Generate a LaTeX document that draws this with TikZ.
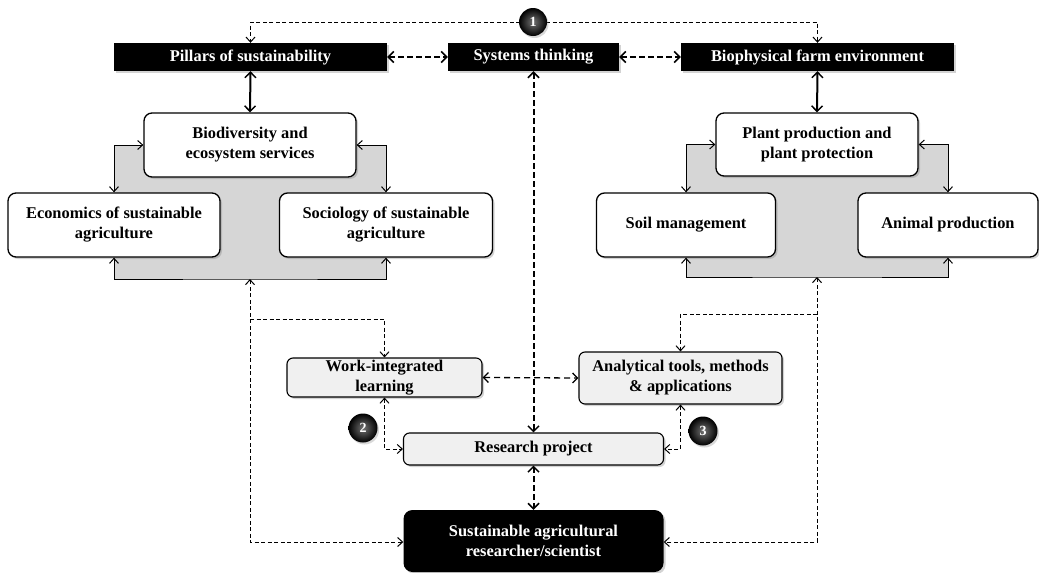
\documentclass[tikz,border=0pt]{standalone}
\usepackage{fontspec}
\setmainfont{Liberation Serif}
\usetikzlibrary{arrows.meta,shadows,calc}
\tikzset{
  stip/.tip={Straight Barb[length=5pt,width=9pt]},
  btip/.tip={Straight Barb[length=5.5pt,width=11pt,line width=1.5pt]},
  mtip/.tip={Straight Barb[length=5pt,width=10pt]}
}
\begin{document}
\begin{tikzpicture}[x=1pt,y=-1pt,
  every node/.style={font=\fontsize{16.4}{20}\selectfont\bfseries, align=center, inner sep=0pt},
  blackbox/.style={fill=black, text=white, minimum height=28pt, drop shadow={opacity=0.35,shadow xshift=2pt,shadow yshift=-2pt}},
  whitebox/.style={draw=black, line width=1.3pt, fill=white, rounded corners=8pt, drop shadow={opacity=0.35,shadow xshift=2pt,shadow yshift=-2pt}},
  lightbox/.style={draw=black, line width=1.1pt, fill=black!6, rounded corners=6pt, drop shadow={opacity=0.35,shadow xshift=2pt,shadow yshift=-2pt}},
  susbox/.style={fill=black, text=white, rounded corners=9pt, drop shadow={opacity=0.35,shadow xshift=2pt,shadow yshift=-2pt}},
  numball/.style={circle, shading=radial, inner color=black!55, outer color=black, text=white, minimum size=29pt, font=\fontsize{14}{14}\selectfont\bfseries, drop shadow={opacity=0.3,shadow xshift=1.5pt,shadow yshift=-2pt}},
  thin/.style={line width=1pt},
  thindash/.style={line width=1pt, dash pattern=on 4pt off 2.5pt},
  thickdash/.style={line width=2pt, dash pattern=on 6pt off 3pt},
  thickline/.style={line width=2pt}
]
\useasboundingbox (0,0) rectangle (1039,573);

% gray areas
\fill[black!16] (114,146) rectangle (386,279);
\fill[black!16] (686,145) rectangle (948,277);

% top boxes
\node[blackbox, minimum width=273pt] (pil) at (250.5,57) {Pillars of sustainability};
\node[blackbox, minimum width=171pt] (sys) at (533.5,57) {Systems thinking};
\node[blackbox, minimum width=273pt] (bfe) at (817.5,57) {Biophysical farm environment};

% left cluster
\node[whitebox, minimum width=212pt, minimum height=64pt] (biod) at (250,145) {Biodiversity and\\ecosystem services};
\node[whitebox, minimum width=212pt, minimum height=64pt] (econ) at (114,225) {Economics of sustainable\\agriculture};
\node[whitebox, minimum width=213pt, minimum height=64pt] (soc) at (386,225) {Sociology of sustainable\\agriculture};

% right cluster
\node[whitebox, minimum width=202pt, minimum height=63pt] (plant) at (817,144.5) {Plant production and\\plant protection};
\node[whitebox, minimum width=179pt, minimum height=64pt] (soil) at (686,225) {Soil management};
\node[whitebox, minimum width=180pt, minimum height=64pt] (anim) at (948,225) {Animal production};

% middle
\node[lightbox, minimum width=195pt, minimum height=39pt] (wil) at (384.5,377.5) {Work-integrated\\learning};
\node[lightbox, minimum width=203pt, minimum height=52pt] (ana) at (680.5,378) {Analytical tools, methods\\\& applications};
\node[lightbox, minimum width=260pt, minimum height=32pt] (res) at (533.5,449) {Research project};
\node[susbox, minimum width=260pt, minimum height=62pt] (sus) at (533.5,541) {Sustainable agricultural\\researcher/scientist};

% coordinates
\coordinate (gl) at (250,279);
\coordinate (gr) at (817,277);
\coordinate (c1p) at (533,22);
\coordinate (lb) at (250,319);
\coordinate (rb) at (817,314);
\coordinate (ll) at (250,542);
\coordinate (rl) at (817,542);

% top dashed lines from circle 1
\draw[thindash, -{stip}] (c1p) -| (pil.north);
\draw[thindash, -{stip}] (c1p) -| (bfe.north);

% horizontal thick dashed
\draw[thickdash, {btip}-{btip}] (pil.east) -- (sys.west);
\draw[thickdash, {btip}-{btip}] (sys.east) -- (bfe.west);

% solid thick vertical
\draw[thickline, {btip}-{btip}] (pil.south) -- (biod.north);
\draw[thickline, {btip}-{btip}] (bfe.south) -- (plant.north);

% cluster connectors
\draw[thin, {stip}-{stip}] (biod.west) -| (econ.north);
\draw[thin, {stip}-{stip}] (biod.east) -| (soc.north);
\draw[thin, {stip}-{stip}] (econ.south) |- (gl) -| (soc.south);
\draw[thin, {stip}-{stip}] (plant.west) -| (soil.north);
\draw[thin, {stip}-{stip}] (plant.east) -| (anim.north);
\draw[thin, {stip}-{stip}] (soil.south) |- (gr) -| (anim.south);

% systems thinking vertical
\draw[thickdash, {btip}-{btip}] (sys.south) -- (res.north);
\draw[thickdash, {btip}-{btip}] (res.south) -- (sus.north);

% left dashed routes
\draw[thindash, {stip}-{stip}] (gl) -- (ll) -- (sus.west |- ll);
\draw[thindash, -{stip}] (lb) -| (wil.north);
% right dashed routes
\draw[thindash, {stip}-{stip}] (gr) -- (rl) -- (sus.east |- rl);
\draw[thindash, -{stip}] (rb) -| (ana.north);

% middle connectors
\draw[line width=1.3pt, dash pattern=on 6pt off 4pt, {mtip}-{mtip}] (wil.east) -- (ana.west);
\draw[thindash, {stip}-{stip}] (wil.south) |- (res.west);
\draw[thindash, {stip}-{stip}] (ana.south) |- (res.east);

% numbered balls
\node[numball, minimum size=28pt] (c1) at (c1p) {1};
\node[numball] (c2) at (363,428) {2};
\node[numball] (c3) at (703,431) {3};
\end{tikzpicture}
\end{document}
